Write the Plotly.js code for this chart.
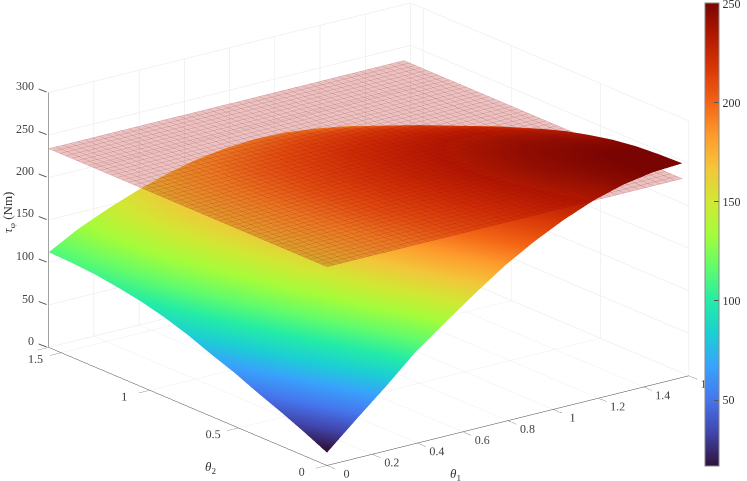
<!DOCTYPE html>
<html>
<head>
<meta charset="utf-8">
<script src="https://cdn.plot.ly/plotly-3.0.1.min.js"></script>
<style>
html, body { margin: 0; padding: 0; background: #fff; }
#chart { width: 747px; height: 481px; }
</style>
</head>
<body>
<div id="chart"></div>
<script>
const thetaOne = [0, 0.131, 0.262, 0.393, 0.524, 0.654, 0.785, 0.916, 1.047, 1.178, 1.309, 1.44, 1.571];
const thetaTwo = [0, 0.131, 0.262, 0.393, 0.524, 0.654, 0.785, 0.916, 1.047, 1.178, 1.309, 1.44, 1.571];

// one row per theta1
const torque = [
    [15, 28, 40, 51, 63, 73, 84, 93, 100, 105, 109, 111, 112],
    [46, 59, 71, 83, 93, 103, 112, 119, 125, 129, 131, 132, 131],
    [76, 89, 100, 111, 121, 129, 136, 142, 146, 149, 150, 149, 146],
    [108, 117, 128, 138, 146, 154, 159, 163, 166, 167, 166, 163, 159],
    [134, 144, 154, 163, 170, 176, 180, 182, 183, 182, 180, 176, 170],
    [159, 169, 178, 185, 191, 195, 197, 198, 197, 195, 191, 185, 178],
    [183, 191, 198, 204, 208, 211, 212, 211, 208, 204, 198, 191, 183],
    [203, 210, 216, 220, 223, 224, 223, 220, 216, 210, 203, 195, 185],
    [220, 226, 230, 233, 234, 233, 230, 226, 220, 213, 205, 195, 184],
    [234, 238, 241, 242, 241, 238, 234, 228, 221, 213, 203, 192, 180],
    [244, 246, 247, 246, 244, 240, 234, 227, 218, 209, 198, 186, 174],
    [250, 251, 250, 247, 243, 238, 230, 222, 212, 201, 190, 177, 165],
    [252, 251, 249, 245, 239, 232, 223, 213, 203, 191, 179, 166, 153]
];

const planeTheta = [0, 1.571];
const planeTorque = [[234, 234], [234, 234]];

const colorTicks = [50, 100, 150, 200, 250];
const xTicks = [0, 0.2, 0.4, 0.6, 0.8, 1, 1.2, 1.4, 1.6];
const xLabels = ["0", "0.2", "0.4", "0.6", "0.8", "1", "1.2", "1.4", "1.6"];
const yTicks = [0, 0.5, 1, 1.5, 1.571];
const yLabels = ["0", "0.5", "1", "1.5", ""];
const zTicks = [0, 50, 100, 150, 200, 250, 300];
const zLabels = ["0", "50", "100", "150", "200", "250", "300"];

const turbo = ["#30123b", "#4145ab", "#4675ed", "#39a2fc", "#1bcfd4", "#24eca6", "#61fc6c", "#a4fc3b",
    "#d1e834", "#f3c63a", "#fe9b2d", "#f36315", "#d93806", "#b11901", "#7a0402"];
const colorscale = turbo.map((c, i) => [i / (turbo.length - 1), c]);

const serif = "Liberation Serif, serif";
const flat = { ambient: 1, diffuse: 0, specular: 0, fresnel: 0, roughness: 1 };

const surfaceTrace = {
    type: "surface",
    x: thetaOne,
    y: thetaTwo,
    z: thetaTwo.map((_, j) => torque.map(row => row[j])),
    colorscale: colorscale,
    cmin: 17,
    cmax: 250.5,
    lighting: flat,
    hoverinfo: "skip",
    colorbar: {
        x: 0.9518,
        xanchor: "left",
        y: 0.5135,
        yanchor: "middle",
        len: 463,
        lenmode: "pixels",
        thickness: 14,
        xpad: 0,
        ypad: 0,
        outlinecolor: "#888",
        outlinewidth: 1,
        tickvals: colorTicks,
        ticks: "inside",
        ticklen: 5,
        tickcolor: "#555",
        ticklabeloverflow: "allow",
        tickfont: { family: serif, size: 12, color: "#333" }
    }
};

const planeTrace = {
    type: "surface",
    x: planeTheta,
    y: planeTheta,
    z: planeTorque,
    showscale: false,
    colorscale: [[0, "#aa0000"], [1, "#aa0000"]],
    opacity: 0.24,
    lighting: flat,
    hoverinfo: "skip",
    contours: {
        x: { show: true, start: 0, end: 1.571, size: 0.03206, color: "rgba(35,3,3,0.25)", width: 1 },
        y: { show: true, start: 0, end: 1.571, size: 0.03206, color: "rgba(35,3,3,0.25)", width: 1 }
    }
};

function sceneAxis(range, ticks, labels) {
    return {
        range: range,
        autorange: false,
        tickmode: "array",
        tickvals: ticks,
        ticktext: labels,
        tickangle: 0,
        title: { text: "" },
        showgrid: true,
        gridcolor: "#e6e6e6",
        gridwidth: 1,
        zeroline: false,
        showline: true,
        linecolor: "#444",
        linewidth: 1,
        ticks: "outside",
        ticklen: 14,
        tickcolor: "#555",
        tickfont: { family: serif, size: 12, color: "#444" },
        showbackground: false,
        showspikes: false
    };
}

function axisLabel(x, y, text, angle) {
    return {
        xref: "paper",
        yref: "paper",
        x: x / 747,
        y: 1 - y / 481,
        xanchor: "center",
        yanchor: "middle",
        text: text,
        textangle: angle,
        showarrow: false,
        font: { family: serif, size: 13, color: "#333" }
    };
}

// plotly points the z ticks the other way, so those are drawn on the page instead
const zTickLabels = zTicks.map((v, i) => ({
    xref: "paper",
    yref: "paper",
    x: 36 / 747,
    y: 1 - (341 - v * 0.85) / 481,
    xanchor: "right",
    yanchor: "middle",
    text: zLabels[i],
    showarrow: false,
    font: { family: serif, size: 12, color: "#444" }
}));

const zTickMarks = zTicks.map(v => ({
    type: "line",
    xref: "paper",
    yref: "paper",
    x0: 47 / 747,
    x1: 39 / 747,
    y0: 1 - (347 - v * 0.85) / 481,
    y1: 1 - (344 - v * 0.85) / 481,
    line: { color: "#555", width: 1 }
}));

const layout = {
    width: 747,
    height: 481,
    margin: { l: 0, r: 0, t: 0, b: 0 },
    paper_bgcolor: "#fff",
    showlegend: false,
    scene: {
        domain: { x: [0, 1], y: [0, 1] },
        aspectmode: "manual",
        aspectratio: { x: 1.894, y: 1.906, z: 1.12 },
        camera: {
            projection: { type: "orthographic" },
            eye: { x: -1.142, y: -1.506, z: 0.62 },
            center: { x: 0.006, y: -0.004, z: -0.028 },
            up: { x: 0, y: 0, z: 1 }
        },
        xaxis: sceneAxis([0, 1.6], xTicks, xLabels),
        yaxis: sceneAxis([0, 1.571], yTicks, yLabels),
        zaxis: { ...sceneAxis([0, 300], zTicks, zLabels), ticks: "", showticklabels: false }
    },
    shapes: zTickMarks,
    annotations: [
        axisLabel(459, 474, "<i>θ</i><sub>1</sub>", 0),
        axisLabel(212, 467, "<i>θ</i><sub>2</sub>", 0),
        axisLabel(8, 212, "<i>τ</i><sub>φ</sub> (Nm)", -90),
        ...zTickLabels
    ]
};

Plotly.newPlot("chart", [surfaceTrace, planeTrace], layout, { displayModeBar: false });
</script>
</body>
</html>
